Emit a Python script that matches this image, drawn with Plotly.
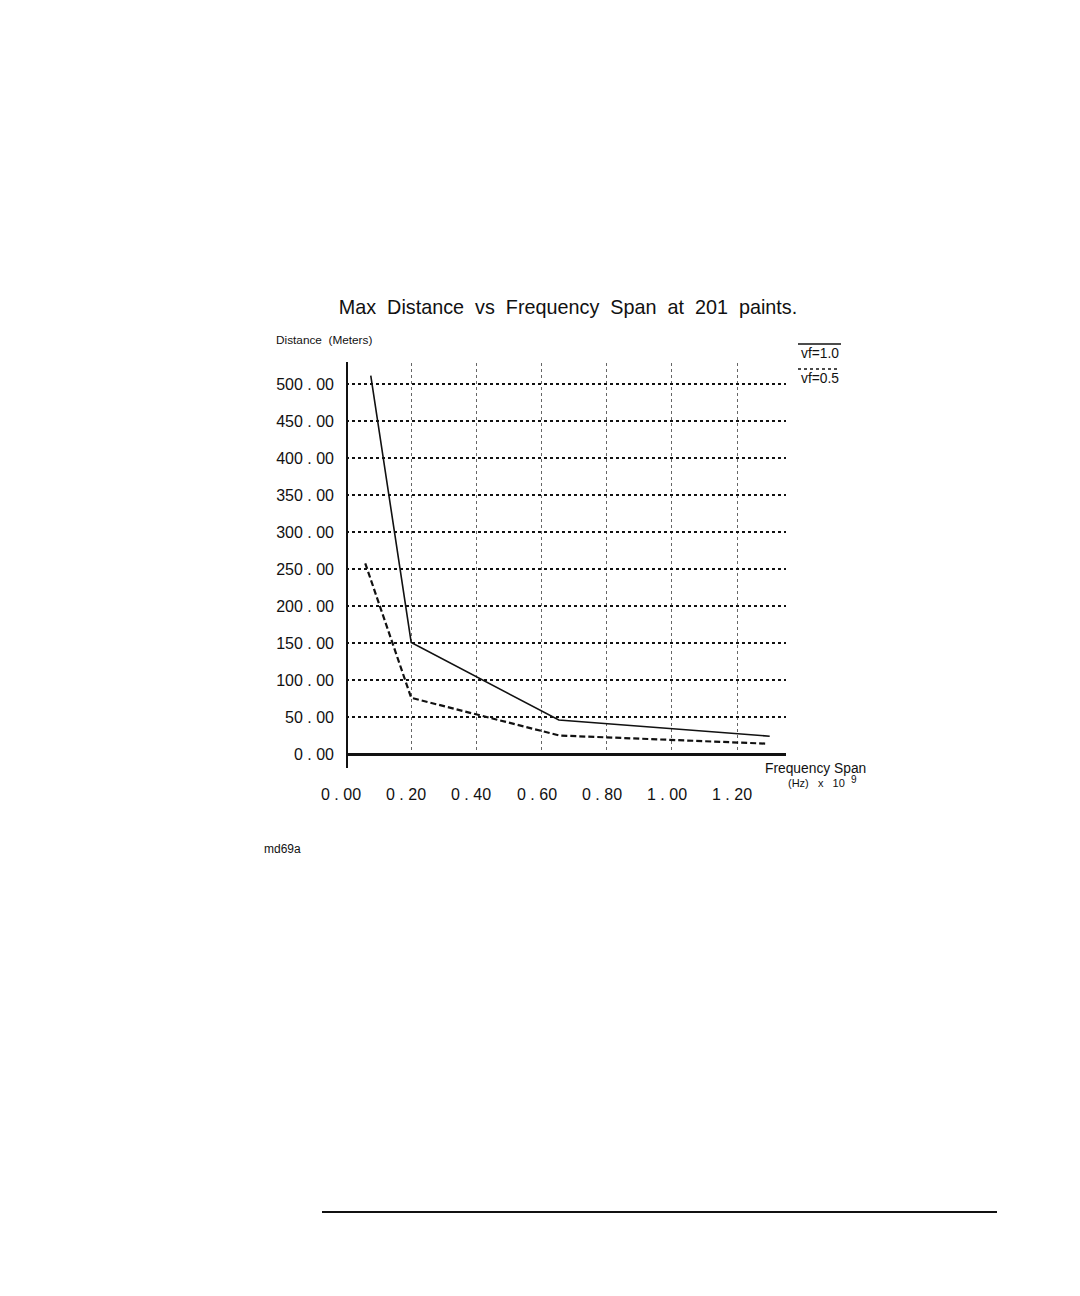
import plotly.graph_objects as go

# ---- data ----
vf10_x = [0.076, 0.20, 0.653, 1.30]
vf10_y = [512, 151, 46, 24]
vf05_x = [0.059, 0.20, 0.655, 1.29]
vf05_y = [258, 76, 25, 14]

y_ticks = [0, 50, 100, 150, 200, 250, 300, 350, 400, 450, 500]
y_labels = ["0 . 00", "50 . 00", "100 . 00", "150 . 00", "200 . 00", "250 . 00",
            "300 . 00", "350 . 00", "400 . 00", "450 . 00", "500 . 00"]
x_ticks = [0.0, 0.2, 0.4, 0.6, 0.8, 1.0, 1.2]
x_labels = ["0 . 00", "0 . 20", "0 . 40", "0 . 60", "0 . 80", "1 . 00", "1 . 20"]

W, H = 1080, 1296
OFF = 8              # page body margin in the browser
L, R = 346 - OFF, 786 - OFF      # plot area in figure pixels
T, B = 363 - OFF, 754 - OFF

def px(xp):
    return (xp - OFF - L) / (R - L)

def py(yp):
    return (B - (yp - OFF)) / (B - T)

FONT = "Liberation Sans, Arial, sans-serif"

fig = go.Figure()
fig.add_trace(go.Scatter(x=vf10_x, y=vf10_y, mode="lines",
                         line=dict(color="#111", width=1.6), showlegend=False))
fig.add_trace(go.Scatter(x=vf05_x, y=vf05_y, mode="lines",
                         line=dict(color="#111", width=2.2, dash="6px,3px"), showlegend=False))

annotations = []
# x tick labels
for v, t in zip(x_ticks, x_labels):
    annotations.append(dict(x=v, y=0, xref="x", yref="y", text=t, showarrow=False,
                            xshift=-5, yshift=-40, font=dict(size=16, color="#111", family=FONT)))
# axis titles and notes
annotations += [
    dict(x=px(274), y=py(340), xref="paper", yref="paper", text="Distance  (Meters)",
         xanchor="left", yanchor="middle", showarrow=False, font=dict(size=11.8, color="#111", family=FONT)),
    dict(x=px(763), y=py(768), xref="paper", yref="paper", text="Frequency Span",
         xanchor="left", yanchor="middle", showarrow=False, font=dict(size=13.8, color="#111", family=FONT)),
    dict(x=px(786), y=py(783), xref="paper", yref="paper",
         text="(Hz)\u00a0\u00a0\u00a0x\u00a0\u00a0\u00a010",
         xanchor="left", yanchor="middle", showarrow=False, font=dict(size=11, color="#111", family=FONT)),
    dict(x=px(849), y=py(779), xref="paper", yref="paper", text="9",
         xanchor="left", yanchor="middle", showarrow=False, font=dict(size=10, color="#111", family=FONT)),
    dict(x=px(262), y=py(849), xref="paper", yref="paper", text="md69a",
         xanchor="left", yanchor="middle", showarrow=False, font=dict(size=12, color="#111", family=FONT)),
    dict(x=px(799), y=py(353), xref="paper", yref="paper", text="vf=1.0",
         xanchor="left", yanchor="middle", showarrow=False, font=dict(size=13.8, color="#111", family=FONT)),
    dict(x=px(799), y=py(378), xref="paper", yref="paper", text="vf=0.5",
         xanchor="left", yanchor="middle", showarrow=False, font=dict(size=13.8, color="#111", family=FONT)),
]

shapes = [
    # legend marks
    dict(type="line", xref="paper", yref="paper", x0=px(798), x1=px(841), y0=py(344), y1=py(344),
         line=dict(color="#111", width=1.5)),
    dict(type="line", xref="paper", yref="paper", x0=px(798), x1=px(839), y0=py(369), y1=py(369),
         line=dict(color="#111", width=1.5, dash="dot")),
    # y axis line (extends a little below the x axis)
    dict(type="line", xref="paper", yref="paper", x0=px(347), x1=px(347), y0=py(768), y1=py(362),
         line=dict(color="#111", width=2)),
    # x axis line
    dict(type="line", xref="paper", yref="paper", x0=px(347), x1=px(786), y0=py(754.5), y1=py(754.5),
         line=dict(color="#111", width=3)),
    # page rule at bottom
    dict(type="line", xref="paper", yref="paper", x0=px(322), x1=px(997), y0=py(1212), y1=py(1212),
         line=dict(color="#111", width=2)),
]

fig.update_layout(
    width=W, height=H,
    margin=dict(l=L, r=W - R, t=T, b=H - B),
    paper_bgcolor="white", plot_bgcolor="white",
    title=dict(text="Max\u00a0\u00a0Distance\u00a0\u00a0vs\u00a0\u00a0Frequency\u00a0\u00a0Span\u00a0\u00a0at\u00a0\u00a0201\u00a0\u00a0paints.",
               x=(568 - OFF) / W, y=1 - (307 - OFF) / H, xanchor="center", yanchor="middle",
               font=dict(size=19.8, color="#111", family=FONT)),
    xaxis=dict(range=[0, 1.35], tickvals=x_ticks, showticklabels=False, ticks="",
               showgrid=True, gridcolor="#666", griddash="dot", gridwidth=1.2,
               zeroline=False, showline=False, fixedrange=True),
    yaxis=dict(range=[0, 529], tickvals=y_ticks, ticktext=y_labels, ticks="",
               ticklabelstandoff=11,
               tickfont=dict(size=16, color="#111", family=FONT),
               showgrid=True, gridcolor="#111", griddash="dot", gridwidth=1.5,
               zeroline=False, showline=False, fixedrange=True),
    annotations=annotations,
    shapes=shapes,
    showlegend=False,
    font=dict(family=FONT),
)

fig.write_html("out.html")
